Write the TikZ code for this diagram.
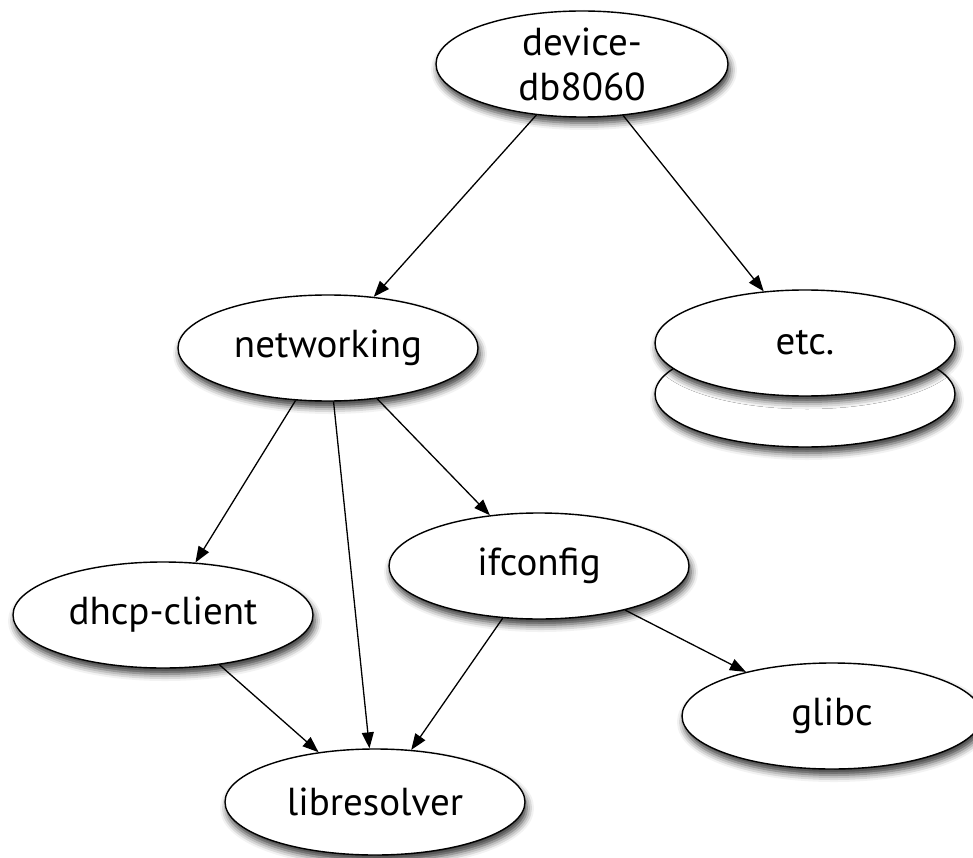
\documentclass[tikz,border=0pt]{standalone}
\usepackage{fontspec}
\setmainfont{PT Sans}
\usetikzlibrary{shapes.geometric,arrows.meta,shadows.blur}
\begin{document}
\begin{tikzpicture}[x=1pt,y=-1pt,
  ell/.style={ellipse, draw=black, line width=1.4pt, fill=white,
    minimum width=300pt, minimum height=106pt, inner sep=0pt,
    blur shadow={shadow xshift=2pt, shadow yshift=-6pt,
      shadow blur radius=7pt, shadow opacity=80}},
  lbl/.style={font=\fontsize{39}{45}\selectfont, align=center, inner sep=0pt},
  arr/.style={-{Triangle[length=16pt,width=12pt]}, line width=1.3pt}
]
\useasboundingbox (0,0) rectangle (973,858);

\node[ell, minimum width=292pt] (dev) at (582,64) {};
\node[lbl] (devt) at (dev) {device-\\db8060};

\node[ell] (net) at (328,348) {};
\node[lbl] (nett) at (net) {networking};

\node[ell] (etcback) at (805,394) {};
\node[ell] (etc) at (805,343) {};
\node[lbl] (etct) at (etc) {etc.};

\node[ell] (ifc) at (539,566) {};
\node[lbl] (ifct) at (ifc) {ifconfig};

\node[ell] (dhcp) at (163,615) {};
\node[lbl] (dhcpt) at (dhcp) {dhcp-client};

\node[ell] (glibc) at (832,716) {};
\node[lbl] (glibct) at (glibc) {glibc};

\node[ell] (lib) at (375,802) {};
\node[lbl] (libt) at (lib) {libresolver};

\draw[arr] (dev) -- (net);
\draw[arr] (dev) -- (etc);
\draw[arr] (net) -- (dhcp);
\draw[arr] (net) -- (lib);
\draw[arr] (net) -- (ifc);
\draw[arr] (dhcp) -- (lib);
\draw[arr] (ifc) -- (lib);
\draw[arr] (ifc) -- (glibc);
\end{tikzpicture}
\end{document}
